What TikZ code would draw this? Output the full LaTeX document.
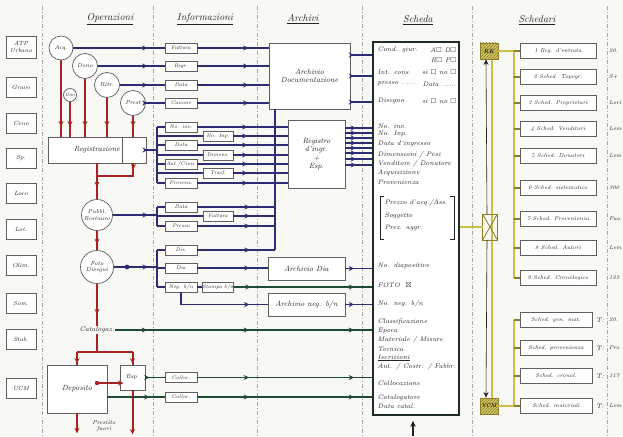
\documentclass[tikz,border=0pt]{standalone}
\usepackage{amssymb}
\usetikzlibrary{arrows.meta,decorations.markings,shapes.misc,patterns}
\definecolor{navy}{RGB}{45,45,115}
\definecolor{redd}{RGB}{165,35,35}
\definecolor{grn}{RGB}{30,75,50}
\definecolor{oliv}{RGB}{205,190,70}
\definecolor{olivd}{RGB}{140,125,40}
\definecolor{bx}{RGB}{95,95,95}
\definecolor{paper}{RGB}{248,248,245}
\definecolor{ink}{RGB}{35,35,35}
\definecolor{schk}{RGB}{30,45,35}
\begin{document}
\begin{tikzpicture}[x=1pt,y=-1pt,
  hdr/.style={font=\fontsize{10}{11}\selectfont\itshape, text=ink},
  stxt/.style={font=\fontsize{6.6}{7}\selectfont\itshape, inner sep=0.5pt, anchor=west, text=ink},
  etxt/.style={stxt, anchor=east},
  rtxt/.style={font=\fontsize{5.6}{6}\selectfont\itshape, inner sep=0pt, anchor=west, text=ink},
  ibox/.style={draw=bx, fill=white, line width=0.7pt, minimum width=32pt, minimum height=10pt, inner sep=0pt, font=\fontsize{5.2}{5.5}\selectfont\itshape, text=ink},
  lbox/.style={draw=bx, fill=white, line width=0.7pt, minimum width=30pt, minimum height=20pt, inner sep=0pt, font=\fontsize{6}{6.5}\selectfont\itshape, align=center, text=ink},
  circ/.style={circle, draw=bx, fill=white, line width=0.7pt, inner sep=0pt, font=\fontsize{5.8}{6.2}\selectfont\itshape, align=center, text=ink},
  abox/.style={draw=bx, fill=white, line width=0.8pt, font=\fontsize{7.5}{8.5}\selectfont\itshape, align=center, text=ink},
  sbox/.style={draw=bx, fill=white, line width=0.7pt, minimum width=76pt, minimum height=15pt, inner sep=2pt, font=\fontsize{5.6}{6}\selectfont\itshape, text=ink},
  ybox/.style={draw=olivd, fill=oliv!85!white, line width=0.8pt, inner sep=0pt, font=\fontsize{6}{6.5}\selectfont\itshape\bfseries, text=ink},
  divider/.style={draw=gray!70, line width=0.7pt, dash pattern=on 4pt off 2pt on 1pt off 2pt},
  bl/.style={color=navy, line width=1.6pt},
  rd/.style={color=redd, line width=2pt},
  gr/.style={color=grn, line width=1.6pt},
  ol/.style={color=oliv, line width=2.6pt},
  tipat/.style={postaction={decorate,decoration={markings,mark=at position #1 with {\arrow{Stealth[length=5.5pt,width=5pt]}}}}},
  endtip/.style={-{Stealth[length=5.5pt,width=5pt]}}
]
\useasboundingbox (0,0) rectangle (623,436);
\fill[paper] (0,0) rectangle (623,436);

% dividers
\foreach \xx in {42,153,257,362,472,607} \draw[divider] (\xx,6) -- (\xx,436);

% headers
\node[hdr] (hop) at (110,19) {\underline{Operazioni}};
\node[hdr] (hinf) at (205,19) {\underline{Informazioni}};
\node[hdr] (harc) at (303,19) {\underline{Archivi}};
\node[hdr] (hsch) at (418,20) {\underline{Scheda}};
\node[hdr] (hsd) at (537,20) {\underline{Schedari}};

% left boxes
\node[lbox, minimum height=22pt] (l1) at (21,47) {ATP\\Urbano};
\node[lbox] (l2) at (21,87) {Gravo};
\node[lbox] (l3) at (21,123) {Ceno};
\node[lbox] (l4) at (21,158) {Sp.};
\node[lbox] (l5) at (21,193) {Loco};
\node[lbox] (l6) at (21,229) {Lot.};
\node[lbox] (l7) at (21,265) {Olim.};
\node[lbox] (l8) at (21,303) {Som.};
\node[lbox] (l9) at (21,339) {Stab.};
\node[lbox] (l10) at (21,388) {UCM};

% operations
\node[circ, minimum size=24pt] (acq) at (61,48) {Acq.};
\node[circ, minimum size=25pt] (dono) at (85,66) {Dono};
\node[circ, minimum size=13pt, font=\fontsize{4.5}{5}\selectfont\itshape] (dim) at (70,95) {Dim};
\node[circ, minimum size=25pt] (ritr) at (107,85) {Ritr.};
\node[circ, minimum size=25pt] (prest) at (133,103) {Prest};
\node[abox, minimum width=98pt, minimum height=26pt, anchor=center] (reg) at (97,150) {Registrazione};
\draw[bx, line width=0.7pt] ([xshift=-24pt]reg.north east) -- ([xshift=-24pt]reg.south east);
\node[circ, minimum size=31pt] (pubb) at (97,215) {Pubbl.\\Restauro};
\node[circ, minimum size=33pt] (foto) at (97,267) {Foto\\Disegni};
\node[stxt, anchor=center] (cat) at (97,330) {Catalogaz.};
\node[abox, minimum width=60pt, minimum height=48pt] (depo) at (77,389) {Deposito};
\node[abox, minimum width=25pt, minimum height=25pt, inner sep=0pt, font=\fontsize{6}{6.5}\selectfont\itshape] (esp) at (132.5,377.5) {Esp.};
\node[stxt, anchor=center, align=center, font=\fontsize{5.8}{6}\selectfont\itshape] (prf) at (104,426) {Prestito\\fuori};

% information boxes
\node[ibox] (fatt) at (181,48) {Fattura};
\node[ibox] (regr) at (181,66) {Regr.};
\node[ibox] (data1) at (181,85) {Data};
\node[ibox] (canone) at (181,103) {Canone};
\node[ibox] (inv) at (181,127) {No. inv.};
\node[ibox] (data2) at (181,145) {Data};
\node[ibox] (autc) at (181,164) {Aut./Cron.};
\node[ibox] (provz) at (181,183) {Provenz.};
\node[ibox, minimum width=30pt] (inp) at (218,136) {No. Inp.};
\node[ibox, minimum width=30pt] (dimen) at (218,155) {Dimens.};
\node[ibox, minimum width=30pt] (trasf) at (218,173) {Trasf.};
\node[ibox] (pdata) at (181,207) {Data};
\node[ibox] (pprez) at (181,226) {Prezzo};
\node[ibox, minimum width=30pt] (pfatt) at (218,216) {Fattura};
\node[ibox] (dis) at (181,250) {Dis.};
\node[ibox] (dia) at (181,268) {Dia};
\node[ibox] (negbn) at (181,287) {Neg. b/n};
\node[ibox, minimum width=30pt] (stampa) at (218,287) {Stampa b/n};
\node[ibox] (coll1) at (181,377.5) {Colloc.};
\node[ibox] (coll2) at (181,397) {Colloc.};

% archives
\node[abox, minimum width=81pt, minimum height=66pt] (arch) at (309.5,76) {Archivio\\Documentazione};
\node[abox, minimum width=57pt, minimum height=68pt] (regis) at (316.5,154) {Registro\\d'ingr.\\+\\Esp.};
\node[abox, minimum width=77pt, minimum height=23pt] (archdia) at (306.5,268.5) {Archivio Dia};
\node[abox, minimum width=77pt, minimum height=23pt] (archneg) at (306.5,304.5) {Archivio neg. b/n};

% scheda
\node[draw=schk, line width=1.7pt, fill=white, minimum width=86pt, minimum height=373pt, inner sep=0pt] (scheda) at (416,228.5) {};
\node[stxt] (sc1) at (377,50) {Cond. giur.};
\node[etxt] (sc2) at (457,50) {A$\square$ D$\square$};
\node[etxt] (sc3) at (457,60) {R$\square$ P$\square$};
\node[stxt] (sc4) at (377,72) {Int. cons.};
\node[etxt] (sc5) at (457,72) {si $\square$ no $\square$};
\node[stxt] (sc6) at (377,84) {presso ......};
\node[etxt] (sc7) at (457,84) {Data ......};
\node[stxt] (sc8) at (377,101) {Disegno};
\node[etxt] (sc9) at (457,101) {si $\square$ no $\square$};
\node[stxt] (sc10) at (377,126) {No. inv.};
\node[stxt] (sc11) at (377,134) {No. Inp.};
\node[stxt] (sc12) at (377,144) {Data d'ingresso};
\node[stxt] (sc13) at (377,155) {Dimensioni / Pesi};
\node[stxt] (sc14) at (377,164) {Venditore / Donatore};
\node[stxt] (sc15) at (377,173) {Acquisizione};
\node[stxt] (sc16) at (377,182) {Provenienza};
\node[stxt] (sc17) at (384,203) {Prezzo d'acq./Ass.};
\node[stxt] (sc18) at (384,216) {Soggetto};
\node[stxt] (sc19) at (384,228) {Prez. aggr.};
\draw[ink, line width=0.7pt] (384,196) -- (380,196) -- (380,239) -- (384,239);
\draw[ink, line width=0.7pt] (450,196) -- (454,196) -- (454,239) -- (450,239);
\node[stxt] (sc20) at (377,266) {No. diapositive};
\node[stxt] (sc21) at (377,285) {FOTO \ $\boxtimes$};
\node[stxt] (sc22) at (377,304) {No. neg. b/n};
\node[stxt] (sc23) at (377,322) {Classificazione};
\node[stxt] (sc24) at (377,331) {Epoca};
\node[stxt] (sc25) at (377,340) {Materiale / Misure};
\node[stxt] (sc26) at (377,349) {Tecnica};
\node[stxt] (sc27) at (377,358) {\underline{Iscrizioni}};
\node[stxt] (sc28) at (377,367) {Aut. / Costr. / Fabbr.};
\node[stxt] (sc29) at (377,383) {Collocazione};
\node[stxt] (sc30) at (377,398) {Catalogatore};
\node[stxt] (sc31) at (377,406) {Data catal.};
\coordinate (bot) at (413,436);
\draw[ink, line width=1.5pt, -{Stealth[length=6pt,width=5.5pt]}] (bot) -- ([yshift=-5pt]scheda.south -| bot);

% red flow
\foreach \c in {acq,dono,dim,ritr,prest}
  \draw[rd,tipat=-10pt] (\c.south) -- (\c.south |- reg.north);
\draw[rd,tipat=-12pt] (reg.south) -- (pubb.north);
\coordinate (rj) at (97,176);
\draw[rd,tipat=6pt] ([xshift=-13pt]reg.south east) |- (rj);
\draw[rd,tipat=-6pt] (pubb.south) -- (foto.north);
\draw[rd,tipat=-12pt] (foto.south) -- (cat.north);
\coordinate (cj) at (97,352);
\draw[rd] (cat.south) -- (cj);
\draw[rd] (depo.north |- cj) -- (esp.north |- cj);
\draw[rd,tipat=-1pt] (depo.north |- cj) -- (depo.north);
\draw[rd,tipat=-1pt] (esp.north |- cj) -- (esp.north);
\coordinate (dd) at (97,383);
\fill[redd] (dd) circle (2.2pt);
\draw[rd,endtip] (dd) -- ([xshift=4pt]dd -| esp.west);
\draw[rd,endtip] (esp.south) -- ++(0,44);
\draw[rd,endtip] (depo.south) -- ++(0,20);

% blue: operations -> information -> archive
\draw[bl,tipat=-17pt] (acq.east) -- (fatt.west);
\draw[bl,tipat=-17pt] (dono.east) -- (regr.west);
\draw[bl,tipat=-17pt] (ritr.east) -- (data1.west);
\draw[bl,tipat=-17pt] (prest.east) -- (canone.west);
\foreach \b in {fatt,regr,data1,canone}
  \draw[bl,tipat=-20pt] (\b.east) -- (\b.east -| arch.west);
\draw[bl,tipat=-18pt] ([yshift=21pt]arch.east) -- ([yshift=21pt]arch.east -| scheda.west);
\draw[bl,tipat=-18pt] (arch.east) -- (arch.east -| scheda.west);
\draw[bl,tipat=-18pt] ([yshift=-26pt]arch.east) -- ([yshift=-26pt]arch.east -| scheda.west);

% registration group
\coordinate (bA1) at (157,127);
\coordinate (bA2) at (157,183);
\draw[bl] (bA1) -- (bA2);
\draw[bl,tipat=-9pt] (reg.east) -- (reg.east -| bA1);
\foreach \b in {inv,data2,autc,provz,inp,dimen,trasf} {
  \draw[bl] (\b.west -| bA1) -- (\b.west);
  \draw[bl,tipat=-40pt] (\b.east) -- (\b.east -| regis.west);
}
\foreach \yy in {128,133,138,143,148,153,159,165}
  \draw[bl,line width=1.4pt,tipat=-16pt] (regis.east |- 0,\yy) -- (scheda.west |- 0,\yy);

% vertical collector into archive
\coordinate (vB) at (275,250);
\draw[bl] (arch.south -| vB) -- (vB);

% publication group
\coordinate (bB1) at (157,207);
\coordinate (bB2) at (157,226);
\draw[bl] (bB1) -- (bB2);
\draw[bl,tipat=-9pt] (pubb.east) -- (pubb.east -| bB1);
\foreach \b in {pdata,pprez,pfatt} {
  \draw[bl] (\b.west -| bB1) -- (\b.west);
  \draw[bl,tipat=-25pt] (\b.east) -- (\b.east -| vB);
}

% photo group
\coordinate (bC1) at (157,250);
\coordinate (bC2) at (157,287);
\draw[bl] (bC1) -- (bC2);
\draw[bl,tipat=-9pt] (foto.east) -- (foto.east -| bC1);
\fill[navy] (127,267) circle (2.4pt);
\foreach \b in {dis,dia,negbn} \draw[bl] (\b.west -| bC1) -- (\b.west);
\draw[bl,tipat=-25pt] (dis.east) -- (dis.east -| vB);
\draw[bl,tipat=-18pt] (dia.east) -- (dia.east -| archdia.west);
\draw[bl,tipat=-18pt] (archdia.east) -- (archdia.east -| scheda.west);
\draw[bl,tipat=-18pt] (negbn.south) |- (archneg.west);
\draw[bl,tipat=-18pt] (archneg.east) -- (archneg.east -| scheda.west);
\draw[bl] (negbn.east) -- (stampa.west);
\draw[gr,tipat=17pt,tipat=-18pt] (stampa.east) -- (stampa.east -| scheda.west);

% green: cataloguing and location
\draw[gr,tipat=-225pt,tipat=-123pt,tipat=-18pt] (cat.east) -- (cat.east -| scheda.west);
\draw[gr,tipat=-15pt] (esp.east) -- (coll1.west);
\draw[gr,tipat=-123pt,tipat=-18pt] (coll1.east) -- (coll1.east -| scheda.west);
\draw[gr,tipat=-15pt] ([yshift=-8pt]depo.east) -- (coll2.west);
\draw[gr,tipat=-123pt,tipat=-18pt] (coll2.east) -- (coll2.east -| scheda.west);

% schedari
\draw[ol] (489+3,59) -- (489+3,398);
\node[ybox, minimum width=18pt, minimum height=16pt, postaction={pattern=north east lines, pattern color=olivd}] (rk) at (489,51) {};
\node[font=\fontsize{6}{6.5}\selectfont\itshape\bfseries, text=ink, inner sep=0pt] (rkt) at (rk) {RK};
\node[ybox, minimum width=18pt, minimum height=16pt, postaction={pattern=north east lines, pattern color=olivd}] (vcm) at (489,406) {};
\node[font=\fontsize{5.5}{6}\selectfont\itshape\bfseries, text=ink, inner sep=0pt] (vcmt) at (vcm) {VCM};
\node[ybox, cross out, draw=olivd, minimum width=14pt, minimum height=25pt] (xbox) at (490,227) {};
\draw[olivd, line width=0.8pt] (xbox.north west) rectangle (xbox.south east);
\draw[ink, line width=0.6pt, endtip] ([xshift=-3pt]xbox.north) -- ([xshift=-3pt]rk.south);
\draw[ink, line width=0.6pt, endtip] ([xshift=-3pt]xbox.south) -- ([xshift=-3pt]vcm.north);
\draw[ol] (scheda.east |- xbox.west) -- (xbox.west);

\node[sbox] (s1) at (558,51) {1 Reg. d'entrata};
\node[sbox] (s2) at (558,77) {2 Sched. Topogr.};
\node[sbox] (s3) at (558,103) {3 Sched. Proprietari};
\node[sbox] (s4) at (558,129) {4 Sched. Venditori};
\node[sbox] (s5) at (558,156) {5 Sched. Donatori};
\node[sbox] (s6) at (558,188) {6 Sched. sistematico};
\node[sbox] (s7) at (558,219) {7 Sched. Provenienza};
\node[sbox] (s8) at (558,248) {8 Sched. Autori};
\node[sbox] (s9) at (558,278) {9 Sched. Cronologico};
\coordinate (sb1) at (514,51);
\coordinate (sb2) at (514,278);
\draw[ol] (rk.east) -- (sb1) -- (sb2);
\foreach \b in {s1,s2,s3,s4,s5,s6,s7,s8,s9}
  \draw[olivd, line width=1.6pt] (\b.west -| sb1) -- (\b.west);

\node[sbox, minimum width=72pt] (t1) at (556,320) {Sched. gen. mat.};
\node[sbox, minimum width=72pt] (t2) at (556,348) {Sched. provenienza};
\node[sbox, minimum width=72pt] (t3) at (556,376) {Sched. cronol.};
\node[sbox, minimum width=72pt] (t4) at (556,406) {Sched. materiali};
\coordinate (tb1) at (514,320);
\draw[ol] (vcm.east) -- (vcm.east -| tb1) -- (tb1);
\foreach \b in {t1,t2,t3,t4} {
  \draw[olivd, line width=1.6pt] (\b.west -| tb1) -- (\b.west);
  \node[stxt] (\b T) at ([xshift=3pt]\b.east) {T:};
}

% short notes at the right edge
\node[rtxt] (r1) at (609,51) {20.};
\node[rtxt] (r2) at (609,77) {S+};
\node[rtxt] (r3) at (609,103) {Lori};
\node[rtxt] (r4) at (609,129) {Lem};
\node[rtxt] (r5) at (609,156) {Lem};
\node[rtxt] (r6) at (609,188) {300};
\node[rtxt] (r7) at (609,219) {Fua};
\node[rtxt] (r8) at (609,248) {Lem};
\node[rtxt] (r9) at (609,278) {123};
\node[rtxt] (r10) at (609,320) {20.};
\node[rtxt] (r11) at (609,348) {Pro};
\node[rtxt] (r12) at (609,376) {117};
\node[rtxt] (r13) at (609,406) {Lem};
\end{tikzpicture}
\end{document}
